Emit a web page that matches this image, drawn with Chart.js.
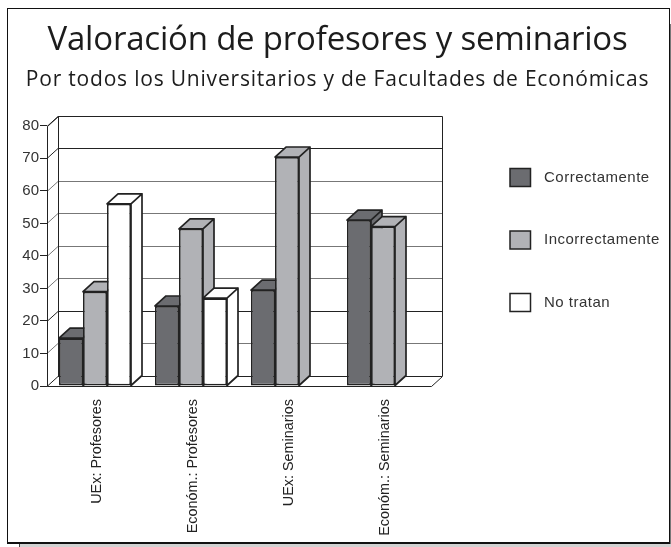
<!DOCTYPE html>
<html>
<head>
<meta charset="utf-8">
<script src="https://cdn.jsdelivr.net/npm/chart.js@4/dist/chart.umd.min.js"></script>
<style>
  body { margin: 0; background: #fff; }
  canvas { display: block; }
</style>
</head>
<body>
<canvas id="chart" width="671" height="547"></canvas>
<script>
const categories = ["UEx: Profesores", "Económ.: Profesores", "UEx: Seminarios", "Económ.: Seminarios"];
const correctamente = [14.7, 24.6, 29.5, 51];
const incorrectamente = [29, 48.3, 70.4, 49];
const noTratan = [56, 27, 0, 0];
const yTicks = [0, 10, 20, 30, 40, 50, 60, 70, 80];

const FONT = "'Liberation Sans', Arial, sans-serif";
const TITLE_FONT = "'Open Sans', sans-serif";
const INK = "#222";
const DX = 11, DY = -10; // fake 3d depth

// reserves the right hand column, the legend is drawn in it
const legendBox = {
  position: "right",
  weight: 0,
  fullSize: false,
  width: 240,
  height: 0,
  options: {},
  isHorizontal() { return false; },
  update() {},
  draw() {
    const ctx = this.chart.ctx;
    ctx.save();
    ctx.font = "15px " + FONT;
    ctx.letterSpacing = "0.5px";
    ctx.textBaseline = "middle";
    ctx.lineWidth = 1.5;
    this.chart.data.datasets.forEach((ds, i) => {
      const y = 168.5 + i * 62.5;
      ctx.fillStyle = ds.backgroundColor;
      ctx.strokeStyle = INK;
      ctx.fillRect(510, y, 20.5, 18);
      ctx.strokeRect(510, y, 20.5, 18);
      ctx.fillStyle = "#333";
      ctx.fillText(ds.label, 544, y + 9);
    });
    ctx.restore();
  },
};

const walls = {
  id: "walls",
  beforeInit(chart) {
    legendBox.chart = chart;
    Chart.layouts.addBox(chart, legendBox);
  },
  // wider letter spacing on the two heading lines
  afterLayout(chart) {
    chart.boxes.forEach((box) => {
      const spacing = box.options && box.options.letterSpacing;
      if (!spacing || box.spaced) return;
      const draw = box.draw;
      box.draw = function (area) {
        chart.ctx.letterSpacing = spacing;
        draw.call(this, area);
        chart.ctx.letterSpacing = "0px";
      };
      box.spaced = true;
    });
  },
  beforeDraw(chart) {
    const { ctx } = chart;
    ctx.save();
    ctx.fillStyle = "#d2d2d2";
    ctx.fillRect(20, 544, 651, 3);
    ctx.fillStyle = "#444";
    ctx.fillRect(19, 543, 1, 4);
    ctx.fillStyle = "#777";
    ctx.fillRect(670, 24, 1, 520);
    ctx.fillStyle = "#111";
    ctx.fillRect(7, 8, 663, 1);
    ctx.fillRect(7, 8, 1, 536);
    ctx.fillRect(669, 8, 1, 536);
    ctx.fillRect(7, 542, 663, 2);
    ctx.restore();
  },
  // returning false here: the plugin paints left to right so each bar covers
  // the side of the one before it (chart.js would go last dataset first)
  beforeDatasetsDraw(chart) {
    const { ctx, chartArea: a, scales: { y } } = chart;
    ctx.save();
    ctx.lineWidth = 1;
    const darkLines = [0, 20, 70, 80];
    yTicks.forEach((t) => {
      const py = Math.round(y.getPixelForValue(t)) + 0.5;
      ctx.strokeStyle = darkLines.includes(t) ? INK : "#777";
      ctx.beginPath();
      ctx.moveTo(a.left, py);
      ctx.lineTo(a.left + DX, py + DY);
      ctx.lineTo(a.right + DX, py + DY);
      ctx.stroke();
    });
    ctx.strokeStyle = INK;
    const b = Math.round(a.bottom) + 0.5, t = Math.round(a.top) + 0.5;
    ctx.beginPath();
    ctx.moveTo(a.right + 0.5, b);
    ctx.lineTo(a.left + 0.5, b);
    ctx.lineTo(a.left + 0.5, t);
    ctx.lineTo(a.left + DX + 0.5, t + DY);
    ctx.lineTo(a.right + DX + 0.5, t + DY);
    ctx.lineTo(a.right + DX + 0.5, b + DY);
    ctx.lineTo(a.right + 0.5, b);
    ctx.moveTo(a.left + DX + 0.5, t + DY);
    ctx.lineTo(a.left + DX + 0.5, b + DY);
    ctx.stroke();
    ctx.restore();

    chart.data.datasets.forEach((ds, n) => {
      const meta = chart.getDatasetMeta(n);
      ctx.save();
      ctx.strokeStyle = INK;
      ctx.lineWidth = 1.7;
      ctx.lineJoin = "round";
      ctx.fillStyle = ds.backgroundColor;
      meta.data.forEach((bar, i) => {
        if (!ds.data[i]) return;
        const l = bar.x - bar.width / 2, r = bar.x + bar.width / 2;
        ctx.beginPath();
        ctx.moveTo(r, bar.y);
        ctx.lineTo(r + DX, bar.y + DY);
        ctx.lineTo(r + DX, bar.base + DY);
        ctx.lineTo(r, bar.base);
        ctx.closePath();
        ctx.moveTo(l, bar.y);
        ctx.lineTo(l + DX, bar.y + DY);
        ctx.lineTo(r + DX, bar.y + DY);
        ctx.lineTo(r, bar.y);
        ctx.closePath();
        ctx.fill();
        ctx.stroke();
      });
      ctx.restore();
      meta.data.forEach((bar, i) => {
        if (ds.data[i]) bar.draw(ctx);
      });
    });
    return false;
  },
};

new Chart(document.getElementById("chart"), {
  type: "bar",
  data: {
    labels: categories,
    datasets: [
      { label: "Correctamente", data: correctamente, backgroundColor: "#6b6c70" },
      { label: "Incorrectamente", data: incorrectamente, backgroundColor: "#b1b2b6" },
      { label: "No tratan", data: noTratan, backgroundColor: "#ffffff" },
    ],
  },
  plugins: [walls],
  options: {
    responsive: false,
    animation: false,
    layout: { padding: { left: 4, right: 0, top: 21, bottom: 0 } },
    elements: { bar: { borderColor: INK, borderWidth: 1.7, borderSkipped: false } },
    datasets: { bar: { categoryPercentage: 0.75, barPercentage: 1 } },
    plugins: {
      legend: { display: false },
      tooltip: { enabled: false },
      title: {
        display: true,
        text: "Valoración de profesores y seminarios",
        color: "#1c1c1c",
        letterSpacing: "-0.2px",
        font: { family: TITLE_FONT, size: 33, weight: "normal" },
        padding: { top: 0, bottom: 7 },
      },
      subtitle: {
        display: true,
        text: "Por todos los Universitarios y de Facultades de Económicas",
        color: "#1c1c1c",
        letterSpacing: "0.8px",
        font: { family: TITLE_FONT, size: 21, weight: "normal" },
        padding: { top: 0, bottom: 33 },
      },
    },
    scales: {
      x: {
        grid: { display: false },
        border: { display: false },
        afterFit(scale) { scale.height = 161; },
        ticks: { color: INK, font: { family: FONT, size: 14.4 }, minRotation: 90, maxRotation: 90, autoSkip: false, padding: 5, labelOffset: 2 },
      },
      y: {
        min: 0,
        max: 80,
        afterFit(scale) { scale.width = 43; },
        grid: { drawOnChartArea: false, drawTicks: true, tickLength: 7, color: INK },
        border: { display: false },
        afterBuildTicks(scale) { scale.ticks = yTicks.map((value) => ({ value })); },
        ticks: { color: "#333", font: { family: FONT, size: 15 }, padding: 1 },
      },
    },
  },
});
</script>
</body>
</html>
